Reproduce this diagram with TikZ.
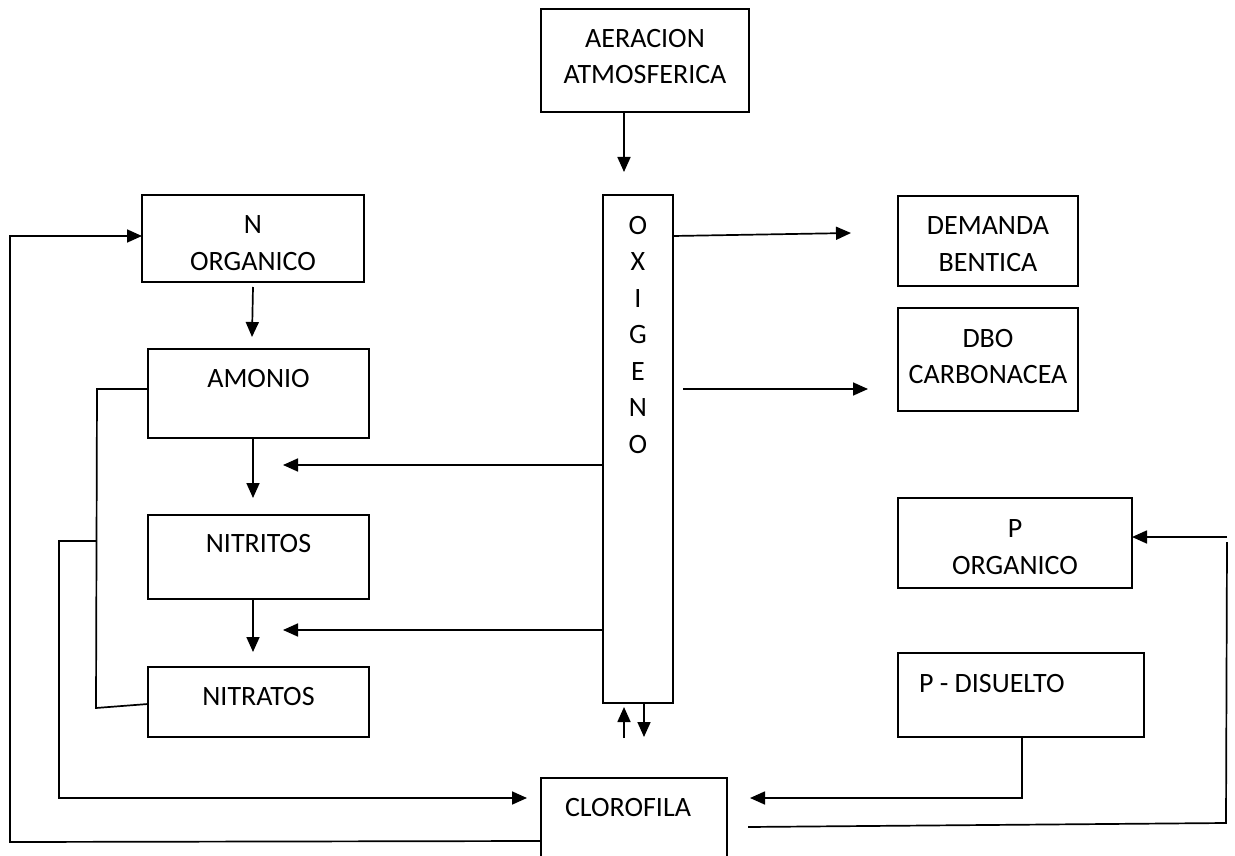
\documentclass[tikz,border=0pt]{standalone}
\usepackage{fontspec}
\setmainfont{Carlito}
\usetikzlibrary{arrows.meta,calc}
\newcommand{\bxt}[4]{\parbox[c][#2pt][t]{#1pt}{\centering\vspace*{#3pt}#4\par}}
\newcommand{\bxl}[5]{\parbox[c][#2pt][t]{#1pt}{\raggedright\vspace*{#3pt}\hspace*{#4pt}#5\par}}
\begin{document}
\begin{tikzpicture}[x=1pt,y=-1pt,
  box/.style={draw, line width=1.7pt, inner sep=0pt, outer sep=0pt, anchor=north west,
    font=\fontsize{28}{36.5}\selectfont},
  ln/.style={line width=1.7pt},
  arr/.style={line width=1.7pt, -{Triangle[length=15pt,width=13pt]}}]
\useasboundingbox (0,0) rectangle (1235,856);

% boxes
\node[box] (aer) at (541,9) {\bxt{208}{103}{20}{AERACION\\ATMOSFERICA}};
\node[box] (oxi) at (603,195) {\bxt{70}{508}{21}{O\\X\\I\\G\\E\\N\\O}};
\node[box] (norg) at (142,195) {\bxt{222}{87}{21}{N\\ORGANICO}};
\node[box] (amo) at (148,349) {\bxt{221}{89}{20.5}{AMONIO}};
\node[box] (nitri) at (148,515) {\bxt{221}{84}{19}{NITRITOS}};
\node[box] (nitra) at (148,667) {\bxt{221}{70}{20.5}{NITRATOS}};
\node[box] (dem) at (898,196) {\bxt{180}{90}{21}{DEMANDA\\BENTICA}};
\node[box] (dbo) at (898,308) {\bxt{180}{103}{21}{DBO\\CARBONACEA}};
\node[box] (porg) at (898,498) {\bxt{234}{90}{22}{P\\ORGANICO}};
\node[box] (pdis) at (898,653) {\bxl{246}{84}{21}{21}{P - DISUELTO}};
\node[box] (clo) at (541,778) {\bxt{186}{80}{20}{\hspace*{-12pt}CLOROFILA}};

% connectors
\draw[arr] ($(aer.south)+(-21,0)$) -- ($(oxi.north)+(-14,-23)$);
\draw[arr] ($(oxi.north east)+(0,41)$) -- ($(dem.north west)+(-47,37)$);
\draw[arr] ($(oxi.north east)+(10,194)$) -- ($(dbo.north west)+(-30,81)$);
\draw[arr] ($(oxi.north west)+(0,270)$) -- ($(amo.south west)+(135,27)$);
\draw[arr] ($(oxi.north west)+(0,435)$) -- ($(nitri.south west)+(135,31)$);
\draw[arr] ($(norg.south)+(0,5)$) -- ($(amo.north west)+(104,-12)$);
\draw[arr] ($(amo.south west)+(105,0)$) -- ($(nitri.north west)+(105,-17)$);
\draw[arr] ($(nitri.south west)+(105,0)$) -- ($(nitra.north west)+(105,-15)$);
\draw[arr] ($(oxi.south)+(-14,35)$) -- ($(oxi.south)+(-14,4)$);
\draw[arr] ($(oxi.south)+(6,0)$) -- ($(oxi.south)+(6,34)$);

% bracket from amonio / nitratos to clorofila
\coordinate (bt) at (97,389);
\coordinate (bm) at (96,541);
\coordinate (bb) at (96,708);
\coordinate (cl) at (59,541);
\draw[ln] ($(amo.north west)+(0,40)$) -- (bt) -- (bb) -- ($(nitra.north west)+(0,37)$);
\draw[arr] (bm) -- (cl) -- (cl |- 0,798) -- ($(clo.north west)+(-14,20)$);

% clorofila back to N organico
\coordinate (ol) at (10,842);
\draw[arr] ($(clo.north west)+(0,63)$) -- (ol) -- (ol |- 0,236) -- ($(norg.north west)+(0,41)$);

% P disuelto to clorofila
\coordinate (pd) at (1022,798);
\draw[arr] ($(pdis.south west)+(124,0)$) -- (pd) -- ($(clo.north east)+(23,20)$);

% clorofila to P organico
\coordinate (rc) at (1226,823);
\coordinate (rt) at (1227,542);
\draw[ln] ($(clo.north east)+(21,49)$) -- (rc) -- (rt);
\draw[arr] (1227,537) -- ($(porg.north east)+(0,39)$);
\end{tikzpicture}
\end{document}
